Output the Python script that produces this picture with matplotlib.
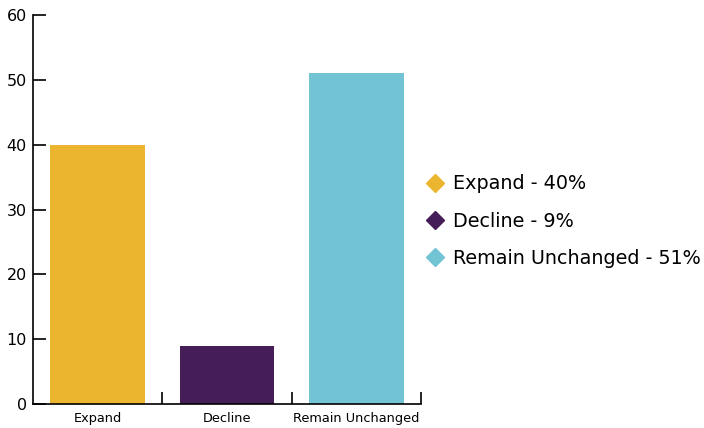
import matplotlib.pyplot as plt
from matplotlib.lines import Line2D

categories = ["Expand", "Decline", "Remain Unchanged"]
values = [40, 9, 51]
colors = ["#EBB52F", "#461E57", "#72C4D5"]
legend_labels = ["Expand - 40%", "Decline - 9%", "Remain Unchanged - 51%"]

fig = plt.figure(figsize=(7.04, 4.28), dpi=100)
ax = fig.add_axes([33/704, 1-404/428, (421-33)/704, 389/428])

x = range(len(categories))
ax.bar(x, values, width=0.73, color=colors)

ax.set_xlim(-0.5, 2.5)
ax.set_ylim(0, 60)
ax.set_yticks(range(0, 61, 10))
ax.set_xticks(list(x))
ax.set_xticklabels(categories, fontsize=9.3)
ax.set_xticks([0.5, 1.5, 2.5], minor=True)
ax.tick_params(axis="x", which="major", length=0, pad=6)
ax.tick_params(axis="x", which="minor", direction="in", length=9, width=1.2)
ax.tick_params(axis="y", direction="in", length=9, width=1.2, labelsize=11.5, pad=4.5)

for s in ["top", "right"]:
    ax.spines[s].set_visible(False)
for s in ["left", "bottom"]:
    ax.spines[s].set_linewidth(1.2)

handles = [Line2D([], [], marker="D", linestyle="", color=c, markersize=9.5) for c in colors]
ax.legend(handles, legend_labels, loc="center left", bbox_to_anchor=(0.99, 0.47),
          frameon=False, fontsize=13.8, handletextpad=0.45, labelspacing=0.95,
          handlelength=0.9, borderaxespad=0.1)

fig.savefig("out.png", dpi=100)
